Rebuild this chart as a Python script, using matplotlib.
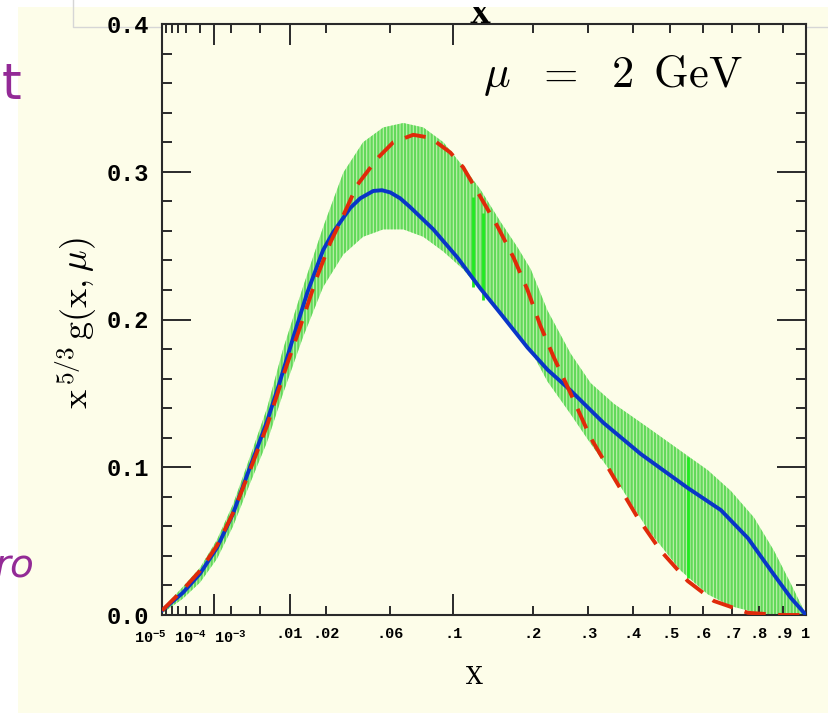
import numpy as np
import matplotlib.pyplot as plt
import matplotlib.transforms as mtransforms
from matplotlib.patches import Rectangle
from matplotlib.lines import Line2D

plt.rcParams['mathtext.fontset'] = 'cm'
plt.rcParams['hatch.linewidth'] = 1.6

# central fit (blue)
blue_x = [1e-5, 1.5e-4, 5.0e-4, 1.16e-3, 2.17e-3, 3.74e-3, 5.94e-3, 8.0e-3, 0.0108, 0.0142,
          0.0189, 0.0223, 0.0291, 0.0336, 0.0402, 0.0450, 0.0500, 0.0564, 0.0634, 0.0816,
          0.104, 0.129, 0.154, 0.192, 0.224, 0.265, 0.332, 0.420, 0.552, 0.660,
          0.758, 0.849, 0.933, 1.0]
blue_y = [0.003, 0.015, 0.028, 0.0455, 0.0686, 0.100, 0.131, 0.157, 0.188, 0.218,
          0.247, 0.259, 0.2755, 0.282, 0.287, 0.2875, 0.286, 0.282, 0.276, 0.261,
          0.242, 0.221, 0.204, 0.181, 0.166, 0.152, 0.130, 0.109, 0.086, 0.071,
          0.052, 0.030, 0.0115, 0.0]

# other fit (red dashed)
red_x = [1e-5, 1.5e-4, 5e-4, 1.16e-3, 2.17e-3, 3.74e-3, 5.94e-3, 9.5e-3, 0.0124, 0.0170,
         0.0213, 0.0250, 0.0322, 0.0424, 0.0519, 0.0656, 0.0791, 0.0971, 0.110, 0.129,
         0.150, 0.1715, 0.192, 0.212, 0.234, 0.265, 0.3045, 0.355, 0.412, 0.473,
         0.552, 0.636, 0.758, 0.890, 1.0]
red_y = [0.003, 0.017, 0.030, 0.047, 0.069, 0.098, 0.128, 0.170, 0.195, 0.229,
         0.252, 0.266, 0.291, 0.309, 0.320, 0.325, 0.323, 0.313, 0.303, 0.283,
         0.263, 0.242, 0.220, 0.196, 0.175, 0.150, 0.120, 0.093, 0.066, 0.0435,
         0.023, 0.0095, 0.0015, 0.0, 0.0]

# uncertainty band (green)
band_x = [1e-5, 1.5e-4, 5e-4, 1.16e-3, 2.17e-3, 3.74e-3, 5.94e-3, 0.00868, 0.0131, 0.0189,
          0.0262, 0.035, 0.0458, 0.0585, 0.0733, 0.0905, 0.110, 0.129, 0.154, 0.177,
          0.197, 0.224, 0.265, 0.3045, 0.355, 0.438, 0.531, 0.616, 0.695, 0.781,
          0.861, 0.933, 0.991, 1.0]
band_hi = [0.004, 0.019, 0.032, 0.051, 0.075, 0.107, 0.140, 0.180, 0.222, 0.2625,
           0.2994, 0.320, 0.330, 0.333, 0.330, 0.320, 0.3035, 0.288, 0.266, 0.249,
           0.234, 0.206, 0.177, 0.157, 0.143, 0.127, 0.111, 0.098, 0.084, 0.066,
           0.0435, 0.021, 0.003, 0.0]
band_lo = [0.001, 0.011, 0.022, 0.038, 0.060, 0.089, 0.117, 0.150, 0.188, 0.222,
           0.244, 0.256, 0.261, 0.261, 0.256, 0.246, 0.234, 0.220, 0.203, 0.190,
           0.179, 0.158, 0.136, 0.116, 0.094, 0.058, 0.030, 0.014, 0.006, 0.002,
           0.0, 0.0, 0.0, 0.0]

# brighter green strokes inside the band
bright_x = [0.1211, 0.1326, 0.5522]
bright_lo = [0.222, 0.213, 0.025]
bright_hi = [0.283, 0.272, 0.107]

major_ticks = [1e-3, 0.01, 0.1]
major_labels = ['', '.01', '.1']
minor_ticks = [1e-5, 2e-5, 5e-5, 1e-4, 2e-4, 5e-4, 2e-3, 5e-3, 0.02, 0.05,
               0.2, 0.3, 0.4, 0.5, 0.6, 0.7, 0.8, 0.9, 1.0]
minor_labels = ['', '', '', '', '', '', '', '', '.02', '.06',
                '.2', '.3', '.4', '.5', '.6', '.7', '.8', '.9', '1']
# crowded power labels, nudged apart (pixel offsets)
pow_ticks = [1e-5, 1e-4, 1e-3]
pow_labels = [r'$\mathregular{10^{-5}}$', r'$\mathregular{10^{-4}}$', r'$\mathregular{10^{-3}}$']
pow_shift = [-12, 12, 17]

tick_font = 'Liberation Mono'
bg = '#fdfde9'
fig = plt.figure(figsize=(8.29, 7.13), dpi=100, facecolor=bg)
W, H = 829, 713
ax = fig.add_axes([162 / W, 1 - 615 / H, 644 / W, 591 / H], facecolor=bg)

ax.set_xscale('function', functions=(np.cbrt, lambda u: u ** 3))
ax.set_xlim(1e-5, 1)
ax.set_ylim(0, 0.4)

ax.fill_between(band_x, band_lo, band_hi, facecolor='#bff1ae', edgecolor='#62d95a',
                hatch='|||||', linewidth=0, zorder=1)
ax.vlines(bright_x, bright_lo, bright_hi, color='#22ea22', lw=2, zorder=2)
ax.plot(blue_x, blue_y, color='#0a35c8', lw=2.8, zorder=3)
ax.plot(red_x, red_y, color='#e02a0a', lw=2.8, ls=(0, (5.5, 3.2)), zorder=4)

ax.set_xticks(major_ticks, labels=major_labels)
ax.set_xticks(minor_ticks, labels=minor_labels, minor=True)
ax.set_yticks([0, 0.1, 0.2, 0.3, 0.4], labels=['0.0', '0.1', '0.2', '0.3', '0.4'])
ax.set_yticks(np.arange(0, 0.41, 0.02), minor=True)

ax.tick_params(which='both', direction='in', top=True, right=True, width=1.4, color='#2a2a2a')
ax.tick_params(axis='x', which='major', length=15, labelsize=11, pad=9)
ax.tick_params(axis='x', which='minor', length=6.5, labelsize=11, pad=9)
ax.tick_params(axis='y', which='major', length=21, labelsize=17, pad=9)
ax.tick_params(axis='y', which='minor', length=7)
for lab in ax.get_xticklabels(which='both') + ax.get_yticklabels():
    lab.set_family(tick_font)
    lab.set_weight('bold')
for s in ax.spines.values():
    s.set_linewidth(1.5)
    s.set_color('#2a2a2a')

for xt, lab, dx in zip(pow_ticks, pow_labels, pow_shift):
    tr = mtransforms.offset_copy(ax.get_xaxis_transform(), fig, x=dx, y=-28, units='dots')
    ax.text(xt, 0, lab, transform=tr, family=tick_font, weight='bold', fontsize=11,
            ha='center', va='baseline', clip_on=False)

ax.text(0.498, 0.893, r'$\mu\ \ =\ \ 2\ \,\mathrm{GeV}$', transform=ax.transAxes,
        fontsize=32, ha='left', va='baseline')

fig.text(76 / W, 1 - 323 / H, r'$\mathrm{x}^{\,5/3}\,\mathrm{g}(\mathrm{x},\mu)$',
         rotation=90, fontsize=26, ha='center', va='center')
fig.text(474 / W, 1 - 677 / H, 'X', family='DejaVu Serif', fontsize=17,
         ha='center', va='center')

# screenshot leftovers around the plot
fig.text(480 / W, 1 - 23 / H, 'X', family='DejaVu Serif', weight='bold', fontsize=19,
         ha='center', va='baseline', zorder=-3)
fig.patches.append(Rectangle((0, 0), 18 / W, 1, transform=fig.transFigure,
                             facecolor='white', edgecolor='none', zorder=-2))
fig.patches.append(Rectangle((0, 1 - 7 / H), 1, 7 / H, transform=fig.transFigure,
                             facecolor='white', edgecolor='none', zorder=-2))
fig.lines.append(Line2D([73 / W, 73 / W, 1], [1, 1 - 27 / H, 1 - 27 / H],
                        transform=fig.transFigure, color='#d6d6d6', lw=1, zorder=-1))
fig.text(12 / W, 1 - 99 / H, 't', color='#932a96', fontsize=36,
         ha='center', va='baseline', zorder=5)
fig.text(34 / W, 1 - 577 / H, 'ro', color='#932a96', fontsize=28, style='italic',
         ha='right', va='baseline', zorder=5)

fig.savefig('out.png', dpi=100, facecolor=bg)
